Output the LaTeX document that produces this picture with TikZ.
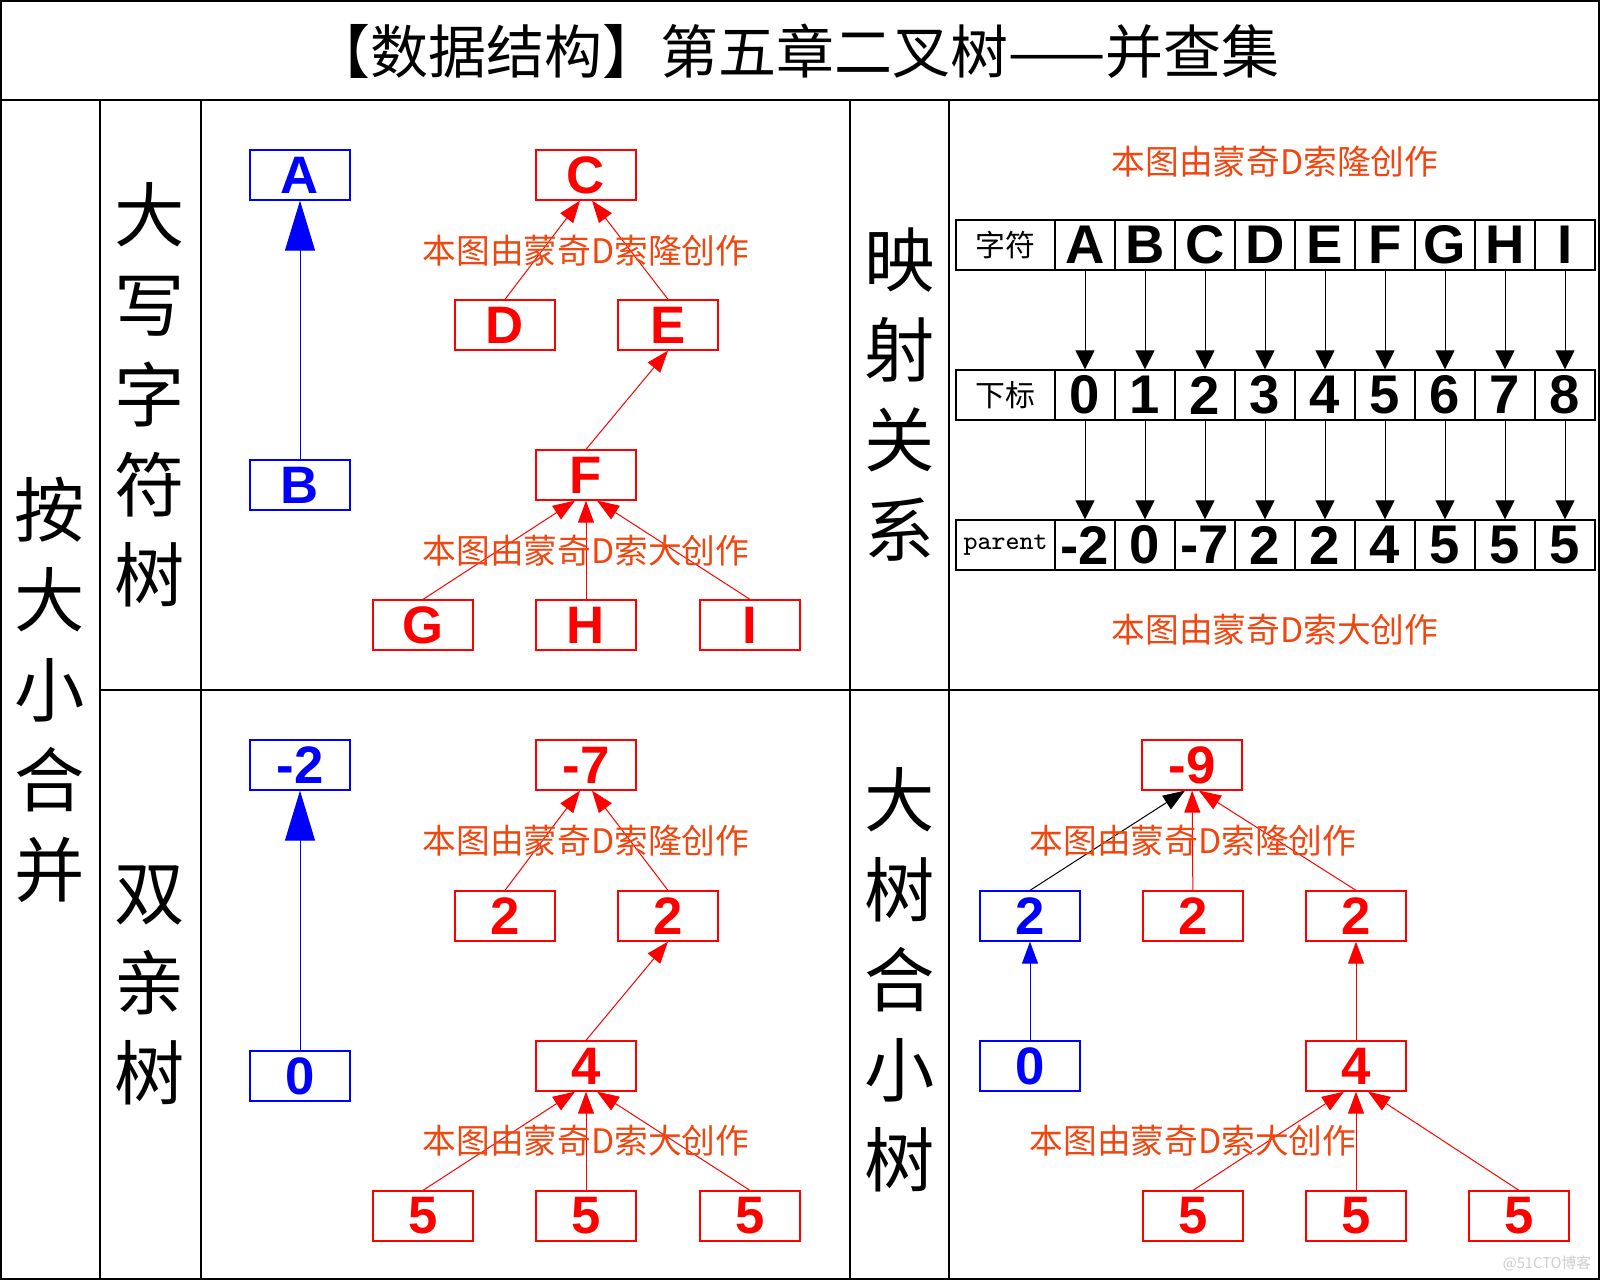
\documentclass[tikz,border=0pt]{standalone}
\usepackage{fontspec}
\setmainfont{Liberation Sans}
\newfontfamily\cjk{Noto Sans CJK SC}
\usetikzlibrary{arrows.meta}
\definecolor{signred}{RGB}{240,70,15}
\definecolor{markgray}{RGB}{205,205,205}

\begin{document}
\begin{tikzpicture}[
		x=0.1mm, y=-0.1mm,
		frame/.style = {line width=0.2mm},
		bluebox/.style = {draw=blue, text=blue, line width=0.13mm, minimum width=10mm, minimum height=5mm, inner sep=0pt, font=\fontsize{15}{15}\selectfont\bfseries},
		redbox/.style = {bluebox, draw=red, text=red},
		cell/.style = {draw, line width=0.13mm, minimum width=6mm, minimum height=5mm, inner sep=0pt, font=\fontsize{15.5}{15.5}\selectfont\bfseries},
		headcell/.style = {cell, minimum width=9.9mm, font=\cjk\fontsize{8.5}{8.5}\selectfont},
		sign/.style = {text=signred, font=\cjk\fontsize{9.6}{9.6}\selectfont},
		side/.style = {align=center, font=\cjk\fontsize{20}{25.6}\selectfont},
		bigarrow/.style = {-{Triangle[length=5mm,width=3mm]}, blue, line width=0.1mm},
		uparrow/.style = {-{Triangle[length=2.2mm,width=1.6mm]}, line width=0.1mm},
		maparrow/.style = {-{Triangle[length=1.9mm,width=1.9mm]}, line width=0.1mm}
			]
		\useasboundingbox (0,0) rectangle (1600,1280);

		\draw [frame] (1,1) rectangle (1599,1279);
		\draw [frame] (1,100) -- (1599,100);
		\draw [frame] (100,690) -- (1599,690);
		\draw [frame] (100,100) -- (100,1279);
		\draw [frame] (201,100) -- (201,1279);
		\draw [frame] (850,100) -- (850,1279);
		\draw [frame] (949,100) -- (949,1279);

		\node (title) at (796,51) {\cjk\fontsize{16.5}{16.5}\selectfont 【数据结构】第五章二叉树——并查集};

		\node [side] (bysize) at (50,690) {按\\大\\小\\合\\并};
		\node [side] (lettertree) at (150,395) {大\\写\\字\\符\\树};
		\node [side] (parenttree) at (150,985) {双\\亲\\树};
		\node [side] (mapping) at (900,395) {映\\射\\关\\系};
		\node [side] (bigsmall) at (900,980) {大\\树\\合\\小\\树};

		\node [bluebox] (A) at (300,175) {A};
		\node [bluebox] (B) at (300,485) {B};
		\node [redbox] (C) at (586,175) {C};
		\node [redbox] (D) at (505,325) {D};
		\node [redbox] (E) at (668,325) {E};
		\node [redbox] (F) at (586,475) {F};
		\node [redbox] (G) at (423,625) {G};
		\node [redbox] (H) at (586,625) {H};
		\node [redbox] (I) at (750,625) {I};

		\draw [bigarrow] (B) -- (A);
		\draw [uparrow, red] (D.north) -- ([xshift=-0.6mm]C.south);
		\draw [uparrow, red] (E.north) -- ([xshift=0.6mm]C.south);
		\draw [uparrow, red] (F.north) -- (E.south);
		\draw [uparrow, red] (G.north) -- ([xshift=-1.1mm]F.south);
		\draw [uparrow, red] (H) -- (F);
		\draw [uparrow, red] (I.north) -- ([xshift=1.1mm]F.south);

		\node [sign] (signCD) at (586,251) {本图由蒙奇D索隆创作};
		\node [sign] (signFG) at (586,551) {本图由蒙奇D索大创作};

		\node [sign] (signTop) at (1275,162) {本图由蒙奇D索隆创作};
		\node [headcell] (chrhead) at (1005.5,245) {字符};
		\node [headcell] (idxhead) at (1005.5,395) {下标};
		\node [headcell, font=\ttfamily\fontsize{7.5}{7.5}\selectfont] (parhead) at (1005.5,545) {parent};
		\foreach \c/\p [count=\i from 0] in {A/-2,B/0,C/-7,D/2,E/2,F/4,G/5,H/5,I/5} {
			\node [cell] (chr\i) at (1085+60*\i,245) {\c};
			\node [cell] (idx\i) at (1085+60*\i,395) {\i};
			\node [cell] (par\i) at (1085+60*\i,545) {\p};
			\draw [maparrow] (chr\i) -- (idx\i);
			\draw [maparrow] (idx\i) -- (par\i);
		}
		\node [sign] (signBottom) at (1275,630) {本图由蒙奇D索大创作};

		\node [bluebox] (negtwo) at (300,765) {-2};
		\node [bluebox] (zero) at (300,1076) {0};
		\node [redbox] (negseven) at (586,765) {-7};
		\node [redbox] (twoL) at (505,916) {2};
		\node [redbox] (twoR) at (668,916) {2};
		\node [redbox] (four) at (586,1066) {4};
		\node [redbox] (fiveL) at (423,1216) {5};
		\node [redbox] (fiveM) at (586,1216) {5};
		\node [redbox] (fiveR) at (750,1216) {5};

		\draw [bigarrow] (zero) -- (negtwo);
		\draw [uparrow, red] (twoL.north) -- ([xshift=-0.6mm]negseven.south);
		\draw [uparrow, red] (twoR.north) -- ([xshift=0.6mm]negseven.south);
		\draw [uparrow, red] (four.north) -- (twoR.south);
		\draw [uparrow, red] (fiveL.north) -- ([xshift=-1.1mm]four.south);
		\draw [uparrow, red] (fiveM) -- (four);
		\draw [uparrow, red] (fiveR.north) -- ([xshift=1.1mm]four.south);

		\node [sign] (signSeven) at (586,841) {本图由蒙奇D索隆创作};
		\node [sign] (signFour) at (586,1141) {本图由蒙奇D索大创作};

		\node [redbox] (negnine) at (1192,765) {-9};
		\node [bluebox] (btwo) at (1030,916) {2};
		\node [redbox] (mtwo) at (1193,916) {2};
		\node [redbox] (rtwo) at (1356,916) {2};
		\node [bluebox] (bzero) at (1030,1066) {0};
		\node [redbox] (rfour) at (1356,1066) {4};
		\node [redbox] (fiveA) at (1193,1216) {5};
		\node [redbox] (fiveB) at (1356,1216) {5};
		\node [redbox] (fiveC) at (1519,1216) {5};

		\draw [uparrow] (btwo.north) -- ([xshift=-0.7mm]negnine.south);
		\draw [uparrow, red] (mtwo) -- (negnine);
		\draw [uparrow, red] (rtwo.north) -- ([xshift=0.7mm]negnine.south);
		\draw [uparrow, blue] (bzero) -- (btwo);
		\draw [uparrow, red] (rfour) -- (rtwo);
		\draw [uparrow, red] (fiveA.north) -- ([xshift=-1.2mm]rfour.south);
		\draw [uparrow, red] (fiveB) -- (rfour);
		\draw [uparrow, red] (fiveC.north) -- ([xshift=1.2mm]rfour.south);

		\node [sign] (signNine) at (1193,841) {本图由蒙奇D索隆创作};
		\node [sign] (signRFour) at (1193,1141) {本图由蒙奇D索大创作};

		\node [text=markgray, font=\cjk\fontsize{4.2}{4.2}\selectfont] (mark) at (1547,1263) {@51CTO博客};

	\end{tikzpicture}
\end{document}
